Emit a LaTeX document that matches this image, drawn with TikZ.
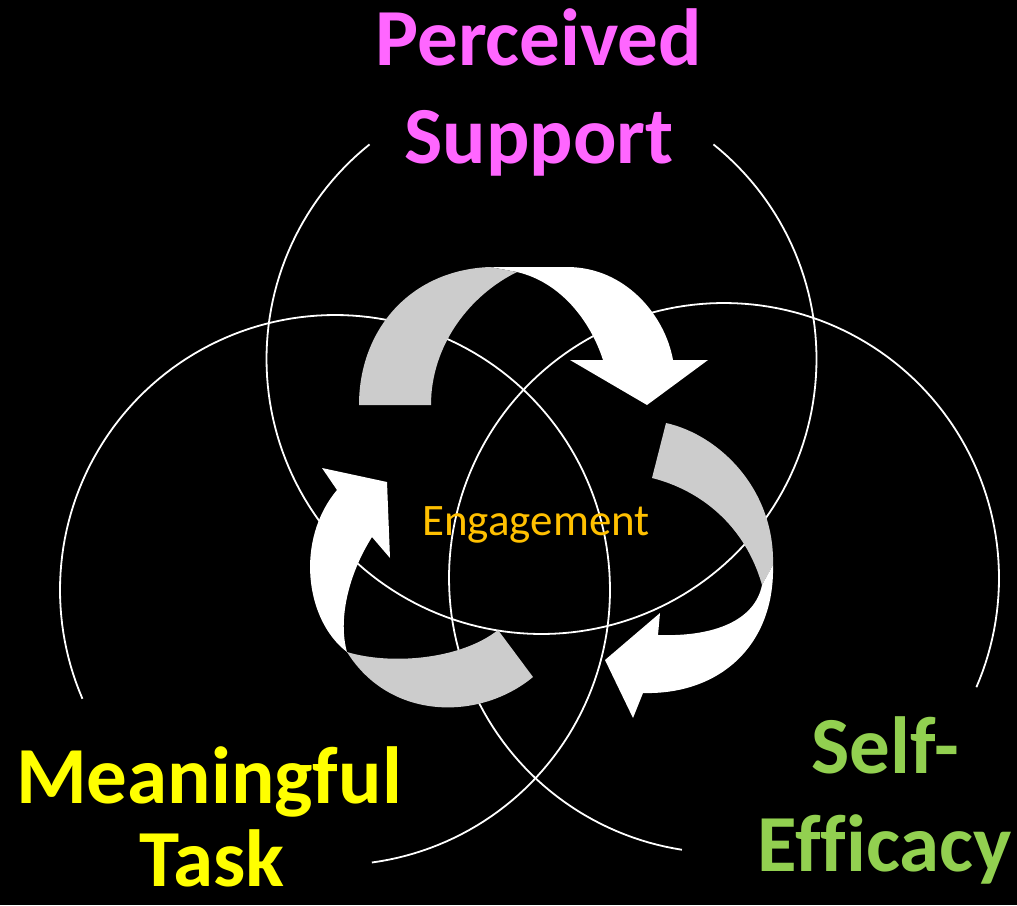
\documentclass[tikz,border=0pt]{standalone}
\usepackage{fontspec}
\setmainfont{Carlito}[Ligatures=CommonOff]
\definecolor{supportpink}{HTML}{FF66FF}
\definecolor{taskyellow}{HTML}{FFFF00}
\definecolor{efficacygreen}{HTML}{92D050}
\definecolor{engageorange}{HTML}{FFC000}
\definecolor{ribbongray}{HTML}{CCCCCC}
\begin{document}
\begin{tikzpicture}[x=1pt,y=-1pt,
  ring/.style={draw=white, line width=1.8pt},
  front/.style={fill=white},
  back/.style={fill=ribbongray},
  biglabel/.style={font=\fontsize{81}{97}\selectfont\bfseries, anchor=base, inner sep=0pt},
  smalllabel/.style={font=\fontsize{45}{54}\selectfont, anchor=base, inner sep=0pt, text=engageorange}]
\fill[black] (0,0) rectangle (1017,905);
\useasboundingbox (0,0) rectangle (1017,905);

% three overlapping rings, each open where its label sits
\draw[ring] plot[domain=-51.3:231.3, samples=160, variable=\t] ({541.5+275*cos(\t)},{359+275*sin(\t)});
\draw[ring] plot[domain=156.7:442.3, samples=160, variable=\t] ({335+275*cos(\t)},{590+275*sin(\t)});
\draw[ring] plot[domain=98.8:383.4, samples=160, variable=\t] ({724+275*cos(\t)},{578+275*sin(\t)});

% top ribbon arrow: white front with head, grey back
\fill[front] (490,267) -- (567,267) .. controls (625,267) and (665,315) .. (673,360)
  -- (708,360) -- (647,405) -- (570,360) -- (603,360)
  .. controls (590,320) and (560,282) .. (517,272) -- cycle;
\fill[back] (359,405) .. controls (359,330) and (410,270) .. (490,267) -- (517,272)
  .. controls (470,295) and (431,345) .. (431,405) -- cycle;

% right ribbon arrow
\fill[back] (666,423) .. controls (720,435) and (775,490) .. (773,565) -- (762,585)
  .. controls (745,525) and (700,490) .. (652,478) -- cycle;
\fill[front] (773,565) .. controls (775,645) and (720,695) .. (643,693)
  -- (633,718) -- (605,660) -- (660,613) -- (658,635)
  .. controls (715,637) and (755,620) .. (762,585) -- cycle;

% lower-left ribbon arrow
\fill[back] (498,630) -- (533,677) .. controls (480,721) and (390,721) .. (347,652)
  .. controls (390,665) and (460,660) .. (498,630) -- cycle;
\fill[front] (347,652) .. controls (305,620) and (295,540) .. (337,490)
  -- (322,468) -- (387,482) -- (390,558) -- (372,537)
  .. controls (348,575) and (338,620) .. (347,652) -- cycle;

% labels
\node[biglabel, text=supportpink] (perc1) at (539,65) {Perceived};
\node[biglabel, text=supportpink] (perc2) at (539,163) {Support};
\node[biglabel, text=taskyellow] (task1) at (209,803) {Meaningful};
\node[biglabel, text=taskyellow] (task2) at (212,886) {Task};
\node[biglabel, text=efficacygreen] (eff1) at (885,773) {Self-};
\node[biglabel, text=efficacygreen] (eff2) at (885,871) {Efficacy};
\node[smalllabel] (eng) at (536,535) {Engagement};
\end{tikzpicture}
\end{document}
